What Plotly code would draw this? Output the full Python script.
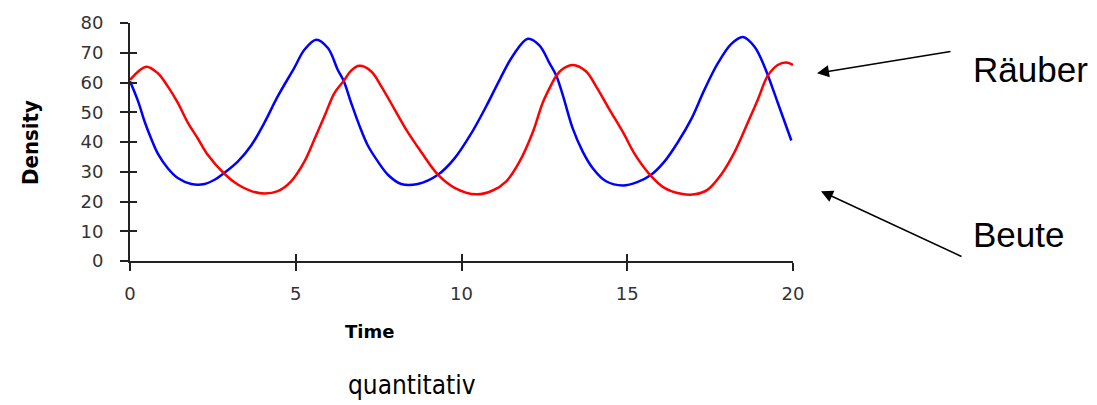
import plotly.graph_objects as go

# Blue curve
blue_t = [0.0, 0.24, 0.44, 0.64, 0.84, 1.14, 1.44, 1.85, 2.25, 2.55, 2.83, 3.25, 3.66, 4.06, 4.46,
          4.96, 5.26, 5.62, 5.97, 6.27, 6.45, 6.67, 6.92, 7.17, 7.48, 7.78, 8.18, 8.68, 9.29, 9.79,
          10.3, 10.75, 11.15, 11.55, 12.0, 12.35, 12.65, 12.86, 13.06, 13.36, 13.66, 13.96, 14.36,
          14.87, 15.3, 15.7, 16.12, 16.53, 16.93, 17.33, 17.73, 18.14, 18.49, 18.84, 19.14, 19.54, 19.95]
blue_y = [60.4, 53.8, 46.9, 41.1, 36.1, 31.2, 27.9, 25.9, 25.9, 27.3, 29.5, 33.4, 38.9, 46.6, 55.4,
          65.0, 71.0, 74.4, 71.6, 64.2, 60.4, 53.2, 45.5, 38.9, 33.4, 29.0, 25.9, 25.9, 29.0, 34.5,
          43.0, 52.1, 60.9, 69.0, 74.7, 72.5, 66.6, 62.3, 55.6, 44.4, 36.7, 31.2, 26.8,
          25.4, 26.5, 28.8, 33.4, 40.0, 47.7, 57.6, 66.4, 73.0, 75.3, 72.0, 65.3, 53.2, 40.5]

# Red curve
red_t = [0.0, 0.49, 0.84, 1.14, 1.44, 1.74, 2.05, 2.35, 2.83, 3.25, 3.66, 4.06, 4.46, 4.86, 5.26,
         5.57, 5.87, 6.17, 6.45, 6.67, 6.92, 7.28, 7.58, 7.98, 8.38, 8.78, 9.29, 9.79, 10.45, 10.94,
         11.35, 11.75, 12.15, 12.45, 12.71, 12.86, 13.06, 13.36, 13.76, 14.06, 14.46, 14.87, 15.25,
         15.7, 16.12, 16.63, 17.03, 17.43, 17.83, 18.24, 18.64, 18.94, 19.24, 19.54, 19.79, 20.0]
red_y = [60.9, 65.3, 63.1, 58.7, 53.2, 46.6, 41.1, 35.6, 29.5, 25.7, 23.5, 22.7, 23.5, 26.8, 33.4,
         41.1, 48.8, 56.5, 60.6, 64.0, 65.6, 63.7, 58.7, 51.0, 43.3, 36.7, 29.0, 24.6, 22.4, 23.7,
         26.8, 33.4, 43.3, 53.2, 59.3, 62.3, 64.6, 65.9, 63.7, 58.7, 51.0, 43.3, 35.5,
         28.8, 24.6, 22.6, 22.4, 24.0, 29.0, 36.7, 46.6, 54.3, 62.3, 65.9, 66.7, 65.9]

x_ticks = [0, 5, 10, 15, 20]
y_ticks = [0, 10, 20, 30, 40, 50, 60, 70, 80]

fig = go.Figure()
fig.add_trace(go.Scatter(x=blue_t, y=blue_y, mode="lines",
                         line=dict(color="#0000FF", width=2.5, shape="spline", smoothing=1.0),
                         showlegend=False, hoverinfo="skip"))
fig.add_trace(go.Scatter(x=red_t, y=red_y, mode="lines",
                         line=dict(color="#FF0000", width=2.5, shape="spline", smoothing=1.0),
                         showlegend=False, hoverinfo="skip"))
# empty helper traces so the overlaying axes (inner half of the crossing ticks) are drawn
fig.add_trace(go.Scatter(x=[None], y=[None], xaxis="x2", yaxis="y", mode="lines",
                         showlegend=False, hoverinfo="skip"))
fig.add_trace(go.Scatter(x=[None], y=[None], xaxis="x", yaxis="y2", mode="lines",
                         showlegend=False, hoverinfo="skip"))

tickfont = dict(family="DejaVu Sans", size=18, color="#333333")
axcommon = dict(showgrid=False, zeroline=False, linecolor="#222222", linewidth=2,
                tickcolor="#222222", tickwidth=2)

fig.update_layout(
    width=1097, height=405,
    margin=dict(l=130, r=304, t=19, b=144),
    paper_bgcolor="white", plot_bgcolor="white",
    xaxis=dict(range=[0, 20], tickvals=x_ticks, ticks="outside", ticklen=8, showline=True,
               tickfont=tickfont, ticklabelstandoff=7, **axcommon),
    yaxis=dict(range=[0, 80], tickvals=y_ticks, ticks="outside", ticklen=8, showline=True,
               tickfont=tickfont, ticklabelstandoff=13, **axcommon),
    xaxis2=dict(range=[0, 20], tickvals=x_ticks, ticks="inside", ticklen=7, overlaying="x",
                anchor="y", side="bottom", showticklabels=False, showline=False, **axcommon),
    yaxis2=dict(range=[0, 80], tickvals=y_ticks, ticks="inside", ticklen=7, overlaying="y",
                anchor="x", side="left", showticklabels=False, showline=False, **axcommon),
)

L = 130.0
W = 663.0
T = 19.0
H = 242.0

def px(x):
    return (x - L) / W

def py(y):
    return (T + H - y) / H

annos = [
    dict(x=px(31), y=py(141), text="<b>Density</b>", textangle=-90, showarrow=False,
         xanchor="center", yanchor="middle",
         font=dict(family="Liberation Sans Narrow, DejaVu Sans Condensed", size=22, color="black")),
    dict(x=px(369), y=py(333), text="<b>Time</b>", showarrow=False,
         xanchor="center", yanchor="middle",
         font=dict(family="DejaVu Sans", size=18, color="black")),
    dict(x=px(412), y=py(387), text="quantitativ", showarrow=False,
         xanchor="center", yanchor="middle",
         font=dict(family="DejaVu Sans Condensed", size=26, color="black")),
    dict(x=px(971), y=py(66), text="Räuber", showarrow=False, xanchor="left", yanchor="middle",
         font=dict(family="Liberation Sans", size=35, color="black")),
    dict(x=px(971), y=py(234), text="Beute", showarrow=False, xanchor="left", yanchor="middle",
         font=dict(family="Liberation Sans", size=35, color="black")),
    dict(x=px(817), y=py(70), ax=135, ay=-22, text="", showarrow=True,
         arrowhead=2, arrowsize=1.6, arrowwidth=1.5, arrowcolor="black"),
    dict(x=px(821), y=py(190), ax=142, ay=66, text="", showarrow=True,
         arrowhead=2, arrowsize=1.6, arrowwidth=1.5, arrowcolor="black"),
]
for a in annos:
    a.setdefault("xref", "paper")
    a.setdefault("yref", "paper")
fig.update_layout(annotations=annos)

fig.write_html("out.html", config={"displayModeBar": False},
               post_script="document.body.style.margin='0';")
